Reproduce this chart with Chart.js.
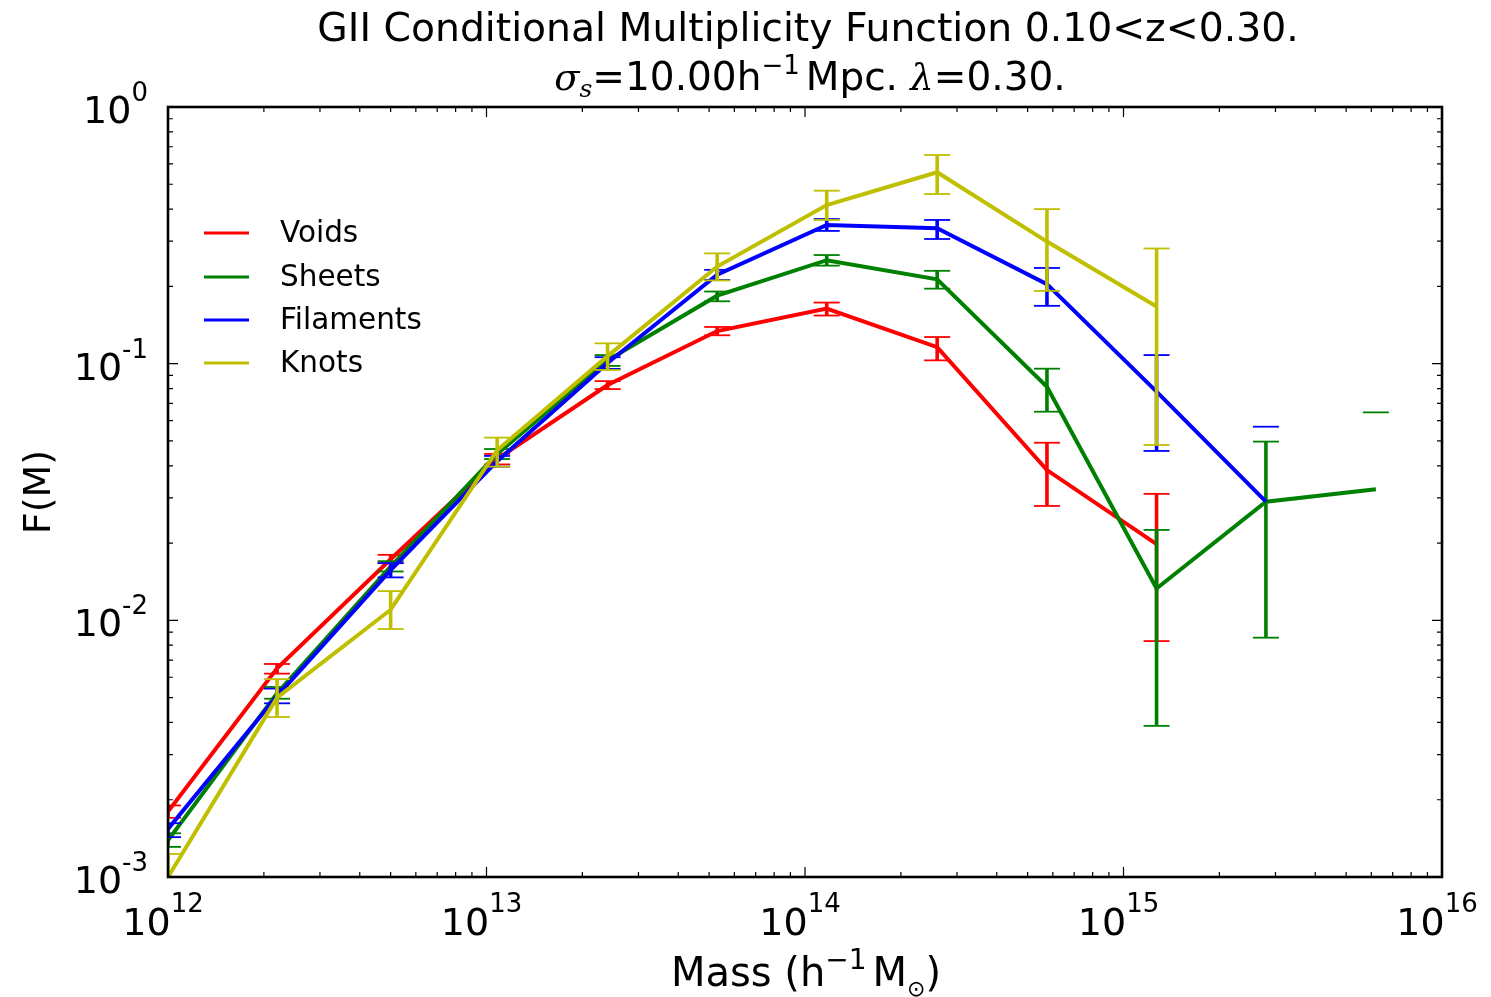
<!DOCTYPE html>
<html>
<head>
<meta charset="utf-8">
<script src="https://cdn.jsdelivr.net/npm/chart.js@4/dist/chart.umd.min.js"></script>
<style>
    html, body { margin: 0; padding: 0; background: #fff; }
    #wrap { width: 1491px; height: 997px; }
</style>
</head>
<body>
<div id="wrap"><canvas id="cmfChart" width="1491" height="997"></canvas></div>
<script>
// mass bin centres (h^-1 Msun)
const massBins = [1.0e12, 2.2e12, 5.0e12, 1.08e13, 2.4e13, 5.3e13, 1.17e14, 2.6e14, 5.75e14, 1.27e15, 2.8e15, 6.2e15]

const seriesNames = ["Voids", "Sheets", "Filaments", "Knots"]
const seriesColors = ["#ff0000", "#008000", "#0000ff", "#bfbf00"]

const voids = [1.80e-3, 6.5e-3, 0.0173, 0.0425, 0.0826, 0.134, 0.164, 0.116, 0.0385, 0.0198]
const voidsLow = [1.70e-3, 6.2e-3, 0.0167, 0.0405, 0.0796, 0.129, 0.154, 0.103, 0.0279, 0.0083]
const voidsHigh = [1.90e-3, 6.76e-3, 0.0180, 0.0445, 0.0855, 0.139, 0.173, 0.127, 0.0492, 0.0311]

const sheets = [1.39e-3, 5.2e-3, 0.0162, 0.0445, 0.103, 0.184, 0.253, 0.213, 0.0813, 0.0133, 0.029, 0.0324]
const sheetsLow = [1.31e-3, 4.95e-3, 0.0155, 0.0425, 0.098, 0.175, 0.241, 0.196, 0.065, 0.00388, 0.00856, null]
const sheetsHigh = [1.48e-3, 5.5e-3, 0.0170, 0.0465, 0.108, 0.191, 0.265, 0.230, 0.0956, 0.0225, 0.0497, 0.0646]

const filaments = [1.54e-3, 5.07e-3, 0.0157, 0.0417, 0.1006, 0.222, 0.347, 0.337, 0.204, 0.0778, 0.029]
const filamentsLow = [1.43e-3, 4.75e-3, 0.0147, 0.0397, 0.0954, 0.212, 0.329, 0.306, 0.168, 0.0457, null]
const filamentsHigh = [1.62e-3, 5.42e-3, 0.0167, 0.0437, 0.106, 0.232, 0.366, 0.363, 0.236, 0.108, 0.0568]

const knots = [1.0e-3, 5.0e-3, 0.0110, 0.046, 0.107, 0.239, 0.415, 0.557, 0.299, 0.167]
const knotsLow = [0.77e-3, 4.2e-3, 0.00925, 0.0397, 0.0945, 0.211, 0.363, 0.458, 0.192, 0.0482]
const knotsHigh = [1.23e-3, 5.9e-3, 0.0130, 0.0515, 0.120, 0.269, 0.472, 0.650, 0.400, 0.281]

const allValues = [voids, sheets, filaments, knots]
const allLow = [voidsLow, sheetsLow, filamentsLow, knotsLow]
const allHigh = [voidsHigh, sheetsHigh, filamentsHigh, knotsHigh]

const xMajor = [1e12, 1e13, 1e14, 1e15, 1e16]
const xExp = ["12", "13", "14", "15", "16"]
const yMajor = [1e-3, 1e-2, 1e-1, 1]
const yExp = ["-3", "-2", "-1", "0"]

const SANS = "'DejaVu Sans', sans-serif"

function drawRich(ctx, parts, cx, baseline) {
    let total = 0
    parts.forEach(p => {
        ctx.font = p.font
        p.w = ctx.measureText(p.text).width
        total += p.w + (p.gap || 0)
    })
    let x = cx - total / 2
    ctx.textAlign = "left"
    ctx.textBaseline = "alphabetic"
    parts.forEach(p => {
        ctx.font = p.font
        ctx.fillText(p.text, x, baseline + (p.dy || 0))
        x += p.w + (p.gap || 0)
    })
    return total
}

// error bars drawn right after each dataset so the stacking follows matplotlib
const errorBarPlugin = {
    id: "errorBars",
    afterDatasetDraw(chart, args) {
        const i = args.index
        const ctx = chart.ctx
        const xs = chart.scales.x
        const ys = chart.scales.y
        const area = chart.chartArea
        const vals = allValues[i]
        ctx.save()
        ctx.beginPath()
        ctx.rect(area.left, area.top, area.right - area.left, area.bottom - area.top)
        ctx.clip()
        ctx.strokeStyle = seriesColors[i]
        for (let k = 0; k < vals.length; k++) {
            const px = xs.getPixelForValue(massBins[k])
            const lo = allLow[i][k]
            const hi = allHigh[i][k]
            const pHi = ys.getPixelForValue(hi)
            if (lo !== null) {
                const pLo = ys.getPixelForValue(lo)
                ctx.lineWidth = 3.6
                ctx.beginPath()
                ctx.moveTo(px, pLo)
                ctx.lineTo(px, pHi)
                ctx.stroke()
                ctx.lineWidth = 1.8
                ctx.beginPath()
                ctx.moveTo(px - 13, pLo)
                ctx.lineTo(px + 13, pLo)
                ctx.stroke()
            }
            ctx.lineWidth = 1.8
            ctx.beginPath()
            ctx.moveTo(px - 13, pHi)
            ctx.lineTo(px + 13, pHi)
            ctx.stroke()
        }
        ctx.restore()
    }
}

const decorPlugin = {
    id: "decor",
    afterDraw(chart) {
        const ctx = chart.ctx
        const xs = chart.scales.x
        const ys = chart.scales.y
        const a = chart.chartArea
        ctx.save()
        ctx.fillStyle = "#000"
        ctx.strokeStyle = "#000"

        // ticks, all four sides, pointing in
        ctx.lineWidth = 1.2
        for (let e = 12; e < 16; e++) {
            for (let m = 1; m < 10; m++) {
                const px = xs.getPixelForValue(m * Math.pow(10, e))
                const len = m === 1 ? 10 : 5
                ctx.beginPath()
                ctx.moveTo(px, a.bottom)
                ctx.lineTo(px, a.bottom - len)
                ctx.moveTo(px, a.top)
                ctx.lineTo(px, a.top + len)
                ctx.stroke()
            }
        }
        for (let e = -3; e < 0; e++) {
            for (let m = 1; m < 10; m++) {
                const py = ys.getPixelForValue(m * Math.pow(10, e))
                const len = m === 1 ? 10 : 5
                ctx.beginPath()
                ctx.moveTo(a.left, py)
                ctx.lineTo(a.left + len, py)
                ctx.moveTo(a.right, py)
                ctx.lineTo(a.right - len, py)
                ctx.stroke()
            }
        }

        // frame
        ctx.lineWidth = 2.6
        ctx.strokeRect(a.left, a.top, a.right - a.left, a.bottom - a.top)

        // x tick labels
        xMajor.forEach((v, k) => {
            const px = xs.getPixelForValue(v)
            drawRich(ctx, [
                { text: "10", font: "38px " + SANS },
                { text: xExp[k], font: "26px " + SANS, dy: -23 }
            ], px - 5, a.bottom + 58)
        })

        // y tick labels, right aligned
        yMajor.forEach((v, k) => {
            const py = ys.getPixelForValue(v)
            ctx.font = "26px " + SANS
            const wSup = ctx.measureText(yExp[k]).width
            ctx.font = "38px " + SANS
            const wBase = ctx.measureText("10").width
            const right = a.left - 20
            ctx.textAlign = "left"
            ctx.textBaseline = "alphabetic"
            ctx.fillText("10", right - wSup - wBase, py + 16)
            ctx.font = "26px " + SANS
            ctx.fillText(yExp[k], right - wSup, py - 6)
        })

        // axis titles
        drawRich(ctx, [
            { text: "Mass (h", font: "40px " + SANS },
            { text: "\u22121", font: "28px " + SANS, dy: -17, gap: 6 },
            { text: "M", font: "40px " + SANS },
            { text: "\u2299", font: "22px " + SANS, dy: 10 },
            { text: ")", font: "40px " + SANS }
        ], 806, 986)

        ctx.save()
        ctx.translate(50, 492)
        ctx.rotate(-Math.PI / 2)
        ctx.font = "38px " + SANS
        ctx.textAlign = "center"
        ctx.textBaseline = "alphabetic"
        ctx.fillText("F(M)", 0, 0)
        ctx.restore()

        // title, two lines
        drawRich(ctx, [
            { text: "GII Conditional Multiplicity Function 0.10<z<0.30.", font: "39.3px " + SANS }
        ], 808, 41)
        drawRich(ctx, [
            { text: "\u03c3", font: "italic 37px 'DejaVu Serif', serif" },
            { text: "s", font: "italic 25px 'DejaVu Serif', serif", dy: 7 },
            { text: "=10.00h", font: "39px " + SANS },
            { text: "\u22121", font: "26px " + SANS, dy: -16, gap: 6 },
            { text: "Mpc. ", font: "39px " + SANS },
            { text: "\u03bb", font: "italic 37px 'DejaVu Serif', serif" },
            { text: "=0.30.", font: "39px " + SANS }
        ], 810, 90)

        // legend
        const legY = [233, 277, 320, 363]
        seriesNames.forEach((name, k) => {
            ctx.strokeStyle = seriesColors[k]
            ctx.lineWidth = 3
            ctx.beginPath()
            ctx.moveTo(204, legY[k])
            ctx.lineTo(249, legY[k])
            ctx.stroke()
            ctx.fillStyle = "#000"
            ctx.font = "29.5px " + SANS
            ctx.textAlign = "left"
            ctx.textBaseline = "middle"
            ctx.fillText(name, 280, legY[k] + 1)
        })
        ctx.restore()
    }
}

function buildDatasets() {
    return allValues.map((vals, i) => ({
        label: seriesNames[i],
        data: vals.map((v, k) => ({ x: massBins[k], y: v })),
        borderColor: seriesColors[i],
        backgroundColor: seriesColors[i],
        borderWidth: 4,
        pointRadius: 0,
        tension: 0,
        fill: false,
        order: 4 - i
    }))
}

function drawChart() {
    const ctx = document.getElementById("cmfChart").getContext("2d")
    new Chart(ctx, {
        type: "line",
        data: { datasets: buildDatasets() },
        options: {
            responsive: false,
            animation: false,
            layout: { padding: { left: 168, top: 107, right: 49, bottom: 120 } },
            plugins: {
                legend: { display: false },
                title: { display: false },
                tooltip: { enabled: false }
            },
            scales: {
                x: { type: "logarithmic", min: 1e12, max: 1e16, display: false },
                y: { type: "logarithmic", min: 1e-3, max: 1, display: false }
            }
        },
        plugins: [errorBarPlugin, decorPlugin]
    })
}

drawChart()
</script>
</body>
</html>
